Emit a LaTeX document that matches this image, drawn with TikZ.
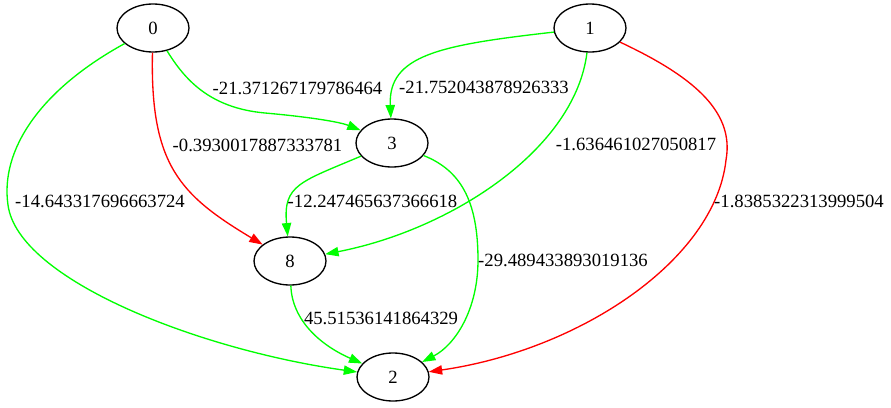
\documentclass[tikz,border=0pt]{standalone}
\usepackage{fontspec}
\setmainfont{Liberation Serif}
\usetikzlibrary{shapes.geometric,arrows.meta}
\definecolor{edgegreen}{RGB}{0,255,0}
\definecolor{edgered}{RGB}{255,0,0}
\tikzset{
  vertex/.style={draw=black, line width=1pt, ellipse, minimum width=54pt, minimum height=36pt, inner sep=0pt, font=\fontsize{14}{16}\selectfont},
  wlabel/.style={inner sep=0pt, anchor=center, font=\fontsize{14}{16}\selectfont},
  edge/.style={line width=1pt, -{Triangle[length=10pt, width=7pt]}},
  gedge/.style={edge, draw=edgegreen},
  redge/.style={edge, draw=edgered},
}
\begin{document}
\begin{tikzpicture}[x=0.75pt, y=-0.75pt]
  \useasboundingbox (0,0) rectangle (891,407);

  % vertices
  \node[vertex] (n0) at (153,28) {0};
  \node[vertex] (n1) at (590,28) {1};
  \node[vertex] (n3) at (392,143) {3};
  \node[vertex] (n8) at (290,261) {8};
  \node[vertex] (n2) at (393,377) {2};

  % weighted edges
  \draw[gedge] (n0) .. controls (185,80) and (210,108) .. (265,113)
                    .. controls (310,117) and (340,122) .. (n3);
  \draw[redge] (n0) .. controls (150,165) and (180,195) .. (n8);
  \draw[gedge] (n0) .. controls (40,90) and (0,150) .. (8,205)
                    .. controls (18,280) and (200,350) .. (n2);
  \draw[gedge] (n1) .. controls (440,45) and (388,55) .. (n3);
  \draw[gedge] (n1) .. controls (575,150) and (450,230) .. (n8);
  \draw[redge] (n1) .. controls (690,75) and (735,110) .. (726,160)
                    .. controls (715,260) and (580,350) .. (n2);
  \draw[gedge] (n3) .. controls (300,182) and (283,185) .. (n8);
  \draw[gedge] (n3) .. controls (460,170) and (478,200) .. (478,260)
                    .. controls (478,310) and (455,345) .. (n2);
  \draw[gedge] (n8) .. controls (292,320) and (320,345) .. (n2);

  % edge weights
  \node[wlabel] (w03) at (297.5,88) {-21.371267179786464};
  \node[wlabel] (w13) at (484,87) {-21.752043878926333};
  \node[wlabel] (w08) at (257.5,145) {-0.3930017887333781};
  \node[wlabel] (w18) at (636,144) {-1.636461027050817};
  \node[wlabel] (w02) at (100,201) {-14.643317696663724};
  \node[wlabel] (w38) at (372.5,201) {-12.247465637366618};
  \node[wlabel] (w12) at (799,201) {-1.8385322313999504};
  \node[wlabel] (w32) at (563,260) {-29.489433893019136};
  \node[wlabel] (w82) at (381,318) {45.51536141864329};
\end{tikzpicture}
\end{document}
